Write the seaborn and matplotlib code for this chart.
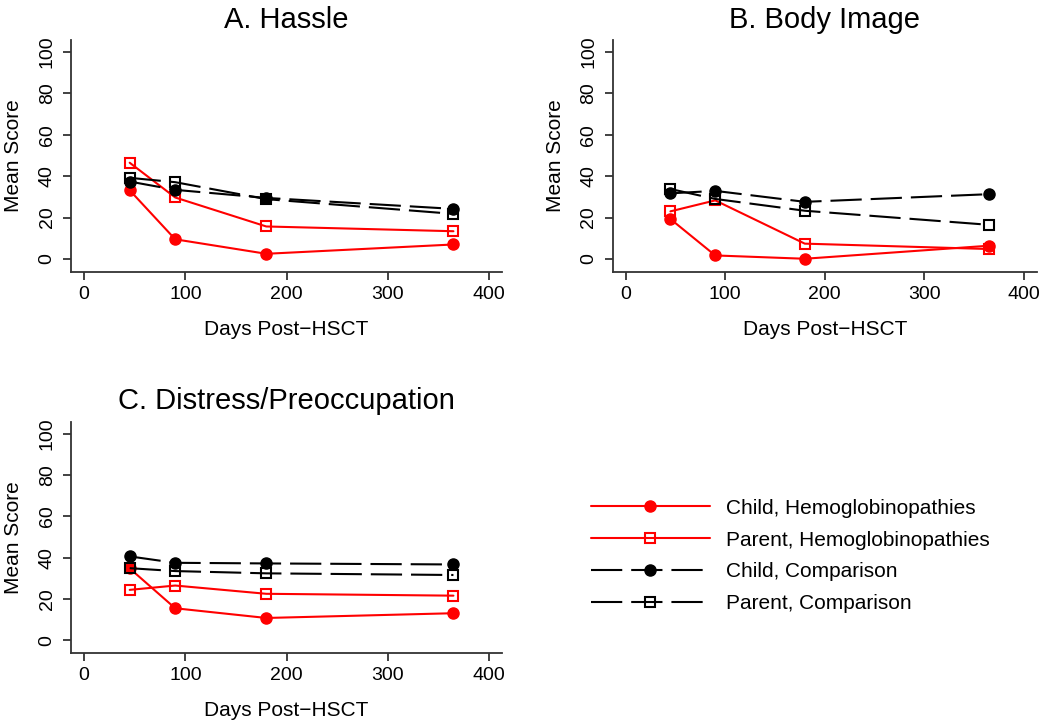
import matplotlib
matplotlib.use("Agg")
import matplotlib.pyplot as plt
from matplotlib.lines import Line2D
import seaborn as sns
import pandas as pd

sns.set_style("white")
plt.rcParams['font.family'] = ['Liberation Sans', 'DejaVu Sans']
plt.rcParams['text.color'] = 'black'
plt.rcParams['axes.labelcolor'] = 'black'
plt.rcParams['xtick.labelcolor'] = 'black'
plt.rcParams['ytick.labelcolor'] = 'black'

days = [45, 90, 180, 365]
series_labels = ["Child, Hemoglobinopathies", "Parent, Hemoglobinopathies",
                 "Child, Comparison", "Parent, Comparison"]
panel_titles = ["A. Hassle", "B. Body Image", "C. Distress/Preoccupation"]

hassle_child_hemo = [33.2, 9.5, 2.5, 7.0]
hassle_parent_hemo = [46.5, 29.7, 15.7, 13.4]
hassle_child_comp = [37.4, 33.4, 29.5, 24.2]
hassle_parent_comp = [39.2, 37.1, 28.9, 21.8]

body_child_hemo = [19.3, 1.7, 0.1, 6.4]
body_parent_hemo = [23.0, 28.3, 7.4, 4.8]
body_child_comp = [31.7, 32.9, 27.6, 31.3]
body_parent_comp = [33.8, 29.0, 23.3, 16.5]

distress_child_hemo = [34.8, 15.5, 10.8, 13.1]
distress_parent_hemo = [24.4, 26.5, 22.5, 21.6]
distress_child_comp = [40.6, 37.5, 37.2, 36.7]
distress_parent_comp = [34.9, 33.5, 32.4, 31.6]

panel_data = [
    [hassle_child_hemo, hassle_parent_hemo, hassle_child_comp, hassle_parent_comp],
    [body_child_hemo, body_parent_hemo, body_child_comp, body_parent_comp],
    [distress_child_hemo, distress_parent_hemo, distress_child_comp, distress_parent_comp],
]

RED = "#ff0000"
DASH = (0, (15, 4.3))
styles = [
    dict(color=RED, linestyle="-", marker="o", markersize=8, markerfacecolor=RED,
         markeredgecolor=RED, markeredgewidth=1.0),
    dict(color=RED, linestyle="-", marker="s", markersize=7.3, markerfacecolor="none",
         markeredgecolor=RED, markeredgewidth=1.5),
    dict(color="black", linestyle=DASH, marker="o", markersize=8, markerfacecolor="black",
         markeredgecolor="black", markeredgewidth=1.0),
    dict(color="black", linestyle=DASH, marker="s", markersize=7.3, markerfacecolor="none",
         markeredgecolor="black", markeredgewidth=1.5),
]

W, H = 1050, 721
fig = plt.figure(figsize=(W / 100, H / 100), dpi=100)

def rect(l, r, b, t):
    return [l / W, (H - b) / H, (r - l) / W, (b - t) / H]

axes_rects = [rect(71, 502, 272, 40), rect(612.7, 1036.7, 272, 40), rect(71, 502, 653.3, 421.7)]

for rect_, title, data in zip(axes_rects, panel_titles, panel_data):
    ax = fig.add_axes(rect_)
    for lab, vals, st in zip(series_labels, data, styles):
        df = pd.DataFrame({"Days": days, "Score": vals})
        sns.lineplot(data=df, x="Days", y="Score", ax=ax, linewidth=1.5, **st)
    ax.set_xlim(-13, 413)
    ax.set_ylim(-6.3, 105.8)
    ax.set_xticks([0, 100, 200, 300, 400])
    ax.set_yticks([0, 20, 40, 60, 80, 100])
    for s in ["top", "right"]:
        ax.spines[s].set_visible(False)
    for s in ["left", "bottom"]:
        ax.spines[s].set_color("#333333")
        ax.spines[s].set_linewidth(1.3)
    ax.tick_params(axis="both", which="major", direction="out", length=6, width=1.3,
                   color="#333333", labelsize=14, labelcolor="black", bottom=True, left=True)
    ax.tick_params(axis="y", labelrotation=90, pad=5)
    ax.tick_params(axis="x", pad=4)
    for t in ax.get_yticklabels():
        t.set_va("center")
    ax.set_xlabel("Days Post\u2212HSCT", fontsize=15, labelpad=12, color="black")
    ax.set_ylabel("Mean Score", fontsize=15, labelpad=11, color="black")
    ax.set_title(title, fontsize=21, pad=9, color="black")

handles = [Line2D([0], [0], linewidth=1.5, **st) for st in styles]
fig.legend(handles, series_labels, loc="center left",
           bbox_to_anchor=(591 / W, (H - 556) / H), frameon=False, fontsize=15,
           handlelength=5.7, handletextpad=0.8, labelspacing=0.62, borderpad=0,
           borderaxespad=0, numpoints=1)

fig.savefig("out.png", dpi=100)
